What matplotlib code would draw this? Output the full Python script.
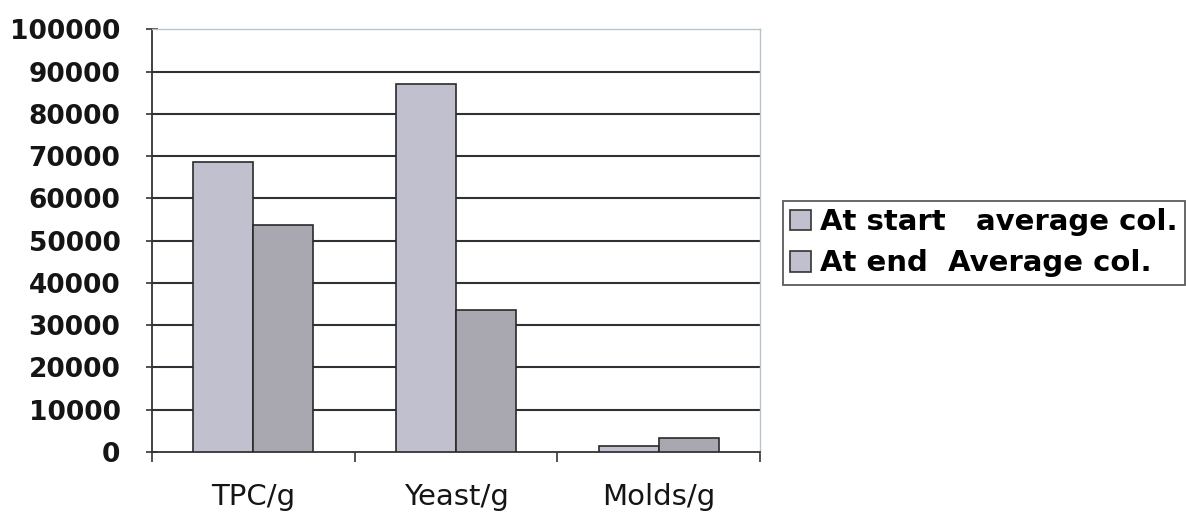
import matplotlib
matplotlib.use("Agg")
import matplotlib.pyplot as plt
import numpy as np

categories = ["TPC/g", "Yeast/g", "Molds/g"]
series_names = ["At start   average col.", "At end  Average col."]
start_values = [68700, 87000, 1400]
end_values = [53800, 33500, 3400]
y_ticks = [0, 10000, 20000, 30000, 40000, 50000, 60000, 70000, 80000, 90000, 100000]

plt.rcParams["font.family"] = ["DejaVu Sans"]

fig = plt.figure(figsize=(11.86, 5.22), dpi=100)
ax = fig.add_axes([0.128, 0.134, 0.513, 0.810])

x = np.arange(len(categories)) + 0.5
w = 0.296
start_color = "#c1c0cf"
end_color = "#a9a8b0"
b1 = ax.bar(x - w / 2, start_values, w, color=start_color, edgecolor="#2a2a2a",
            linewidth=1.2, label=series_names[0], zorder=3)
b2 = ax.bar(x + w / 2, end_values, w, color=end_color, edgecolor="#2a2a2a",
            linewidth=1.2, label=series_names[1], zorder=3)

ax.set_xlim(0, 3)
ax.set_ylim(0, 100000)
ax.set_yticks(y_ticks)
ax.set_yticklabels([str(v) for v in y_ticks], fontsize=19, fontweight="bold",
                   color="#151515")
ax.tick_params(axis="y", direction="inout", length=9, width=1.2, pad=18,
               color="#333333")

# Category labels sit between the boundary ticks
ax.set_xticks([0, 1, 2, 3])
ax.set_xticklabels([])
ax.tick_params(axis="x", direction="out", length=7, width=1.2, color="#333333")
for xi, name in zip(x, categories):
    ax.text(xi, -0.106, name, transform=ax.get_xaxis_transform(), ha="center",
            va="center", fontsize=21, color="#151515")

for v in y_ticks[1:-1]:
    ax.axhline(v, color="#2e3236", linewidth=1.5, zorder=1)

ax.spines["left"].set_color("#333333")
ax.spines["left"].set_linewidth(1.3)
ax.spines["bottom"].set_color("#333333")
ax.spines["bottom"].set_linewidth(1.3)
ax.spines["top"].set_color("#b8c4cc")
ax.spines["top"].set_linewidth(1.0)
ax.spines["right"].set_color("#b8c4cc")
ax.spines["right"].set_linewidth(1.0)

leg = fig.legend(handles=[b1, b2], loc="upper left",
                 bbox_to_anchor=(783 / 1186, 1 - 201 / 522),
                 prop={"size": 21, "weight": "bold"}, frameon=True,
                 fancybox=False, edgecolor="#333333", handlelength=0.72,
                 handleheight=0.72, handletextpad=0.3, borderpad=0.25,
                 labelspacing=0.45, borderaxespad=0)
leg.get_frame().set_linewidth(1.3)
for h in leg.legend_handles:
    h.set_facecolor("#c1c0cf")
    h.set_edgecolor("#333333")

fig.savefig("out.png", dpi=100)
